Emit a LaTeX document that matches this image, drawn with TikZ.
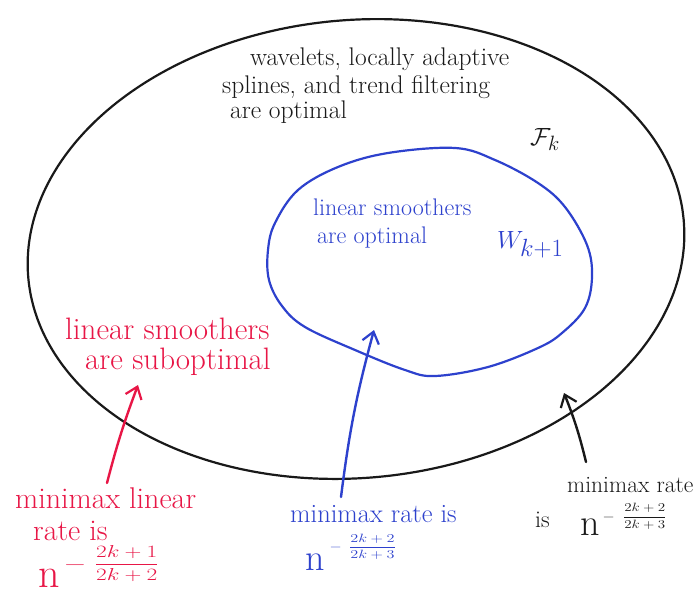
\documentclass[tikz,border=0pt]{standalone}
\usetikzlibrary{arrows.meta}
\usepackage{graphicx}
\definecolor{inkred}{RGB}{232,22,70}
\definecolor{inkblue}{RGB}{45,65,205}
\definecolor{inkblack}{RGB}{25,25,25}
\begin{document}
\begin{tikzpicture}[x=1pt,y=-1pt,
  lbl/.style={inner sep=0pt, anchor=base west},
  ink/.style={line width=2.2pt, line cap=round, line join=round},
  arr/.style={line width=2.4pt, line cap=round, -{Straight Barb[length=11pt,width=17pt,line width=2.2pt]}}]
\useasboundingbox[fill=white] (0,0) rectangle (698,594);
% outer set F_k (tilted ellipse)
\draw[ink, inkblack] plot[domain=0:360, samples=120, smooth cycle, variable=\t]
  ({356 + 329*cos(\t)*cos(5) + 229*sin(\t)*sin(5)},
   {249 - 329*cos(\t)*sin(5) + 229*sin(\t)*cos(5)});
% inner set W_{k+1}
\draw[ink, inkblue] plot[smooth cycle, tension=0.6] coordinates {
  (268,250) (275,223) (298,190) (338,167) (388,153) (455,148) (495,160)
  (538,183) (565,207) (587,245) (592,277) (585,308) (562,333) (538,348)
  (488,367) (435,376) (405,370) (355,350) (305,327) (282,306) (269,280)};
% top black text
\node[lbl, inkblack, font=\fontsize{25.5}{28}\selectfont] (t1) at (250,66) {wavelets, locally adaptive};
\node[lbl, inkblack, font=\fontsize{25.5}{28}\selectfont] (t2) at (222,93) {splines, and trend filtering};
\node[lbl, inkblack, font=\fontsize{25.5}{28}\selectfont] (t3) at (230,118) {are optimal};
\node[lbl, inkblack, font=\fontsize{32}{36}\selectfont] (F) at (530,145) {$\mathcal{F}_k$};
% inner blue text
\node[lbl, inkblue, font=\fontsize{24}{28}\selectfont] (b1) at (313,215) {linear smoothers};
\node[lbl, inkblue, font=\fontsize{24}{28}\selectfont] (b2) at (317,243) {are optimal};
\node[lbl, inkblue, font=\fontsize{36}{40}\selectfont] (W) at (497,248) {$W_{k+1}$};
% red text
\node[lbl, inkred, font=\fontsize{31}{34}\selectfont] (r1) at (65,339) {linear smoothers};
\node[lbl, inkred, font=\fontsize{31}{34}\selectfont] (r2) at (85,369) {are suboptimal};
\node[lbl, inkred, font=\fontsize{30}{34}\selectfont] (r3) at (15,508) {minimax linear};
\node[lbl, inkred, font=\fontsize{30}{34}\selectfont] (r4) at (33,540) {rate is};
\node[lbl, inkred] (r5) at (38,587)
  {{\fontsize{42}{42}\selectfont n}\hspace{4pt}\raisebox{18pt}{\fontsize{16}{16}\selectfont\scalebox{1.7}[1]{$-$}\hspace{8pt}\scalebox{1.35}[1]{$\displaystyle\frac{2k+1}{2k+2}$}}};
% blue bottom text
\node[lbl, inkblue, font=\fontsize{26.5}{30}\selectfont] (m1) at (290,522) {minimax rate is};
\node[lbl, inkblue] (m2) at (305,570)
  {{\fontsize{38}{38}\selectfont n}\hspace{5pt}\raisebox{19.7pt}{\fontsize{13}{13}\selectfont\scalebox{1.3}[1]{$-$}\hspace{7pt}\scalebox{1.35}[1]{$\displaystyle\frac{2k+2}{2k+3}$}}};
% black bottom text
\node[lbl, inkblack, font=\fontsize{23.5}{28}\selectfont] (k1) at (567,492) {minimax rate};
\node[lbl, inkblack, font=\fontsize{24}{28}\selectfont] (k2) at (535,527) {is};
\node[lbl, inkblack] (k3) at (580,535)
  {{\fontsize{38}{38}\selectfont n}\hspace{3pt}\raisebox{15pt}{\fontsize{12}{12}\selectfont\scalebox{1.3}[1]{$-$}\hspace{8pt}\scalebox{1.25}[1]{$\displaystyle\frac{2k+2}{2k+3}$}}};
% arrows
\coordinate (ra) at (107,483);
\coordinate (rb) at (138,385);
\coordinate (ba) at (341,497);
\coordinate (bb) at (374,330);
\coordinate (ka) at (586,462);
\coordinate (kb) at (564,393);
\draw[arr, inkred] (ra) to[bend left=3] (rb);
\draw[arr, inkblue] (ba) to[bend left=4] (bb);
\draw[arr, inkblack] (ka) to[bend right=4] (kb);
\end{tikzpicture}
\end{document}
